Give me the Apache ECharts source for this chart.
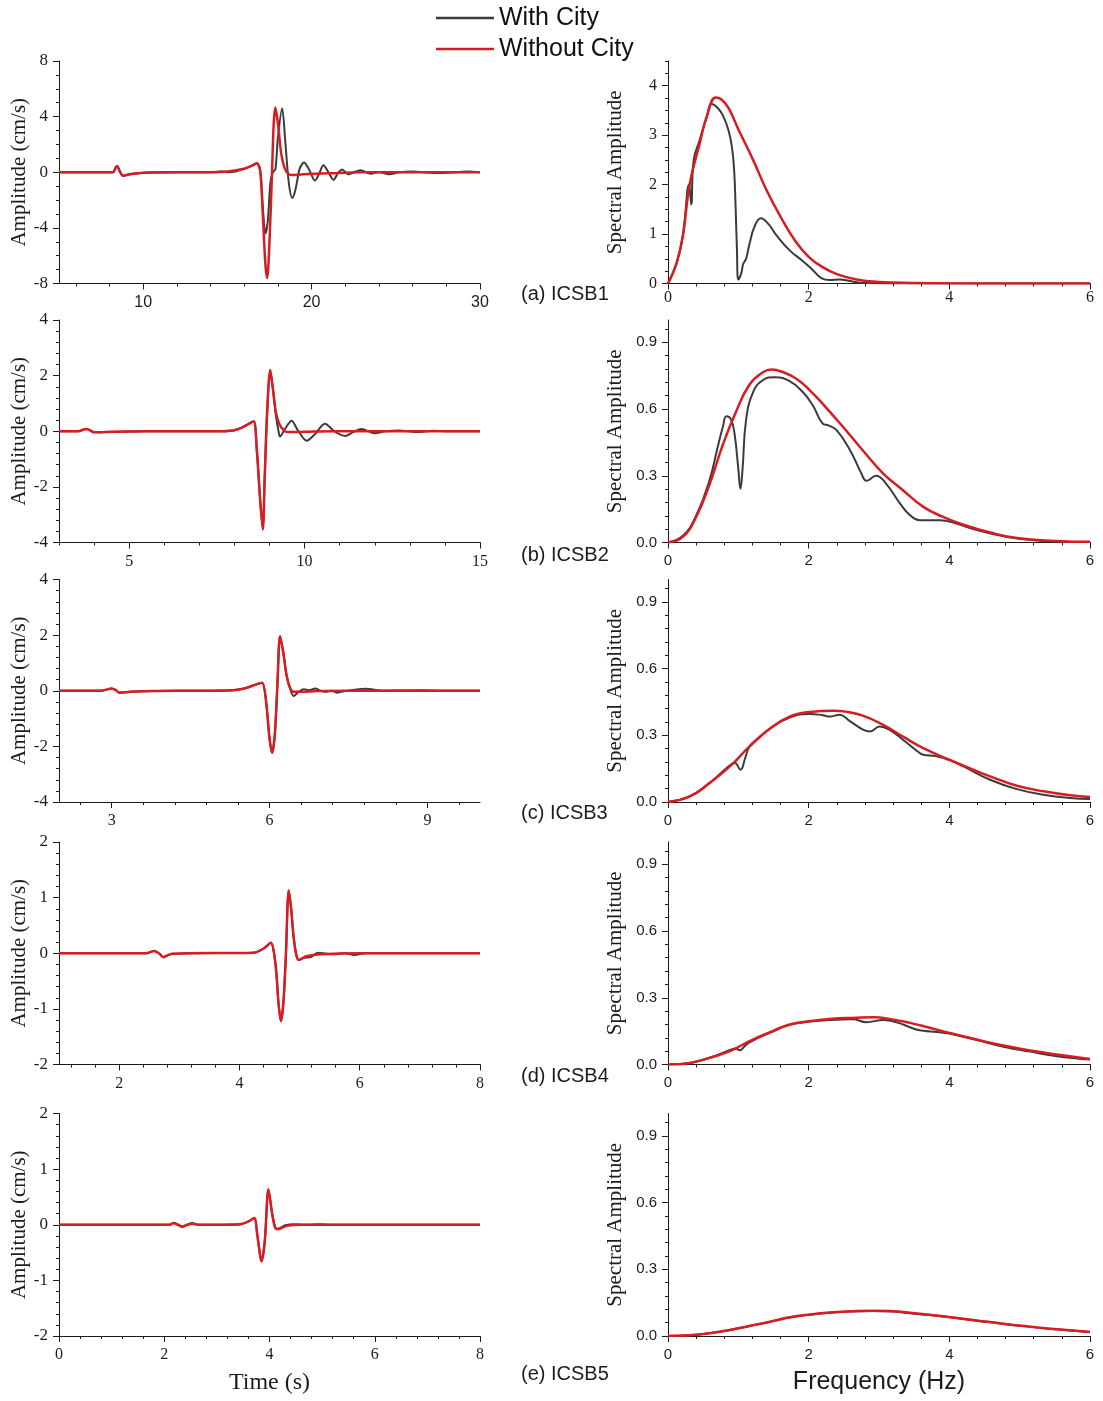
<!DOCTYPE html>
<html>
<head>
<meta charset="utf-8">
<script src="https://cdn.jsdelivr.net/npm/echarts@6/dist/echarts.min.js"></script>
<style>
  html, body { margin: 0; padding: 0; background: #fff; }
  #chart { width: 1103px; height: 1401px; }
</style>
</head>
<body>
<div id="chart"></div>
<script>
// ---------- Velocity time histories [time (s), amplitude (cm/s)] ----------
const waveA_with = [[5,0],[8.2,0],[8.35,0.3],[8.45,0.45],[8.6,0.1],[8.8,-0.25],[9.2,-0.15],[10,-0.03],[12,0],[14.3,0],[14.6,0.06],[15,0],[15.5,0.05],[16,0.25],[16.5,0.5],[16.75,0.65],[16.95,0.1],[17.1,-2.5],[17.26,-4.4],[17.4,-3.5],[17.55,-0.8],[17.7,0],[17.85,0.2],[18.0,2.5],[18.25,4.6],[18.45,2],[18.65,-0.8],[18.85,-1.85],[19.05,-1.2],[19.3,0.3],[19.55,0.7],[19.85,0.2],[20.2,-0.6],[20.45,-0.1],[20.7,0.5],[21.0,0],[21.3,-0.55],[21.55,-0.1],[21.8,0.2],[22.2,-0.15],[22.5,0],[22.9,0.15],[23.5,-0.1],[24.0,0.02],[24.6,-0.15],[25.2,0],[26,0.05],[27,-0.02],[27.6,-0.05],[28.5,0],[29.3,0.05],[30,0]];
const waveA_without = [[5,0],[8.2,0],[8.35,0.3],[8.45,0.45],[8.6,0.1],[8.8,-0.25],[9.2,-0.15],[10,-0.03],[12,0],[14,0],[15,0.05],[16,0.25],[16.5,0.5],[16.75,0.65],[16.95,0.1],[17.1,-3],[17.25,-6.5],[17.36,-7.6],[17.5,-5],[17.65,0],[17.75,3.5],[17.85,4.65],[18.0,3.5],[18.2,1.3],[18.4,0.3],[18.6,-0.1],[18.8,-0.2],[19.5,-0.15],[21,-0.08],[23,0],[30,0]];

const waveB_with = [[3,0],[3.55,0],[3.7,0.06],[3.78,0.08],[3.9,0.02],[4.0,-0.04],[4.3,-0.03],[5,-0.01],[6,0],[7.5,0],[7.97,0.03],[8.2,0.12],[8.4,0.26],[8.55,0.36],[8.64,-0.7],[8.73,-2.4],[8.81,-3.53],[8.86,-1.8],[8.93,0.6],[9.02,2.2],[9.1,1.5],[9.18,0.6],[9.25,0.05],[9.3,-0.19],[9.45,0.1],[9.63,0.38],[9.8,0.05],[10.06,-0.34],[10.3,-0.1],[10.58,0.27],[10.85,0.0],[11.15,-0.17],[11.4,-0.02],[11.62,0.08],[12.0,-0.07],[12.3,0],[12.7,0.03],[13.2,-0.03],[13.66,0.02],[14.1,0],[15,0]];
const waveB_without = [[3,0],[3.55,0],[3.7,0.06],[3.78,0.08],[3.9,0.02],[4.0,-0.04],[4.3,-0.03],[5,-0.01],[6,0],[7.5,0],[7.97,0.03],[8.2,0.12],[8.4,0.26],[8.55,0.36],[8.64,-0.7],[8.73,-2.4],[8.81,-3.53],[8.86,-1.8],[8.93,0.6],[9.02,2.2],[9.1,1.5],[9.18,0.7],[9.28,0.25],[9.4,0.05],[9.5,-0.03],[10.0,-0.02],[10.8,0],[15,0]];

const waveC_with = [[2,0],[2.8,0],[2.92,0.05],[3.0,0.08],[3.08,0.02],[3.15,-0.07],[3.35,-0.04],[3.8,-0.01],[4.5,0],[5.3,0.02],[5.55,0.1],[5.75,0.23],[5.86,0.29],[5.93,-0.3],[6.0,-1.7],[6.05,-2.23],[6.1,-1.6],[6.15,0.2],[6.2,1.96],[6.26,1.4],[6.32,0.6],[6.38,0.15],[6.46,-0.19],[6.55,-0.05],[6.65,0.05],[6.75,0.02],[6.87,0.08],[6.97,0.0],[7.06,-0.04],[7.18,0.0],[7.28,-0.07],[7.47,0.0],[7.82,0.07],[8.17,0],[8.49,0.01],[8.93,0.02],[9.3,0],[10,0]];
const waveC_without = [[2,0],[2.8,0],[2.92,0.05],[3.0,0.08],[3.08,0.02],[3.15,-0.07],[3.35,-0.04],[3.8,-0.01],[4.5,0],[5.3,0.02],[5.55,0.1],[5.75,0.23],[5.86,0.29],[5.93,-0.3],[6.0,-1.7],[6.05,-2.23],[6.1,-1.6],[6.15,0.2],[6.2,1.96],[6.26,1.4],[6.32,0.6],[6.38,0.15],[6.46,-0.04],[6.6,-0.04],[6.9,-0.01],[7.5,0],[10,0]];

const waveD_with = [[1,0],[2.45,0],[2.58,0.04],[2.66,0.0],[2.74,-0.07],[2.82,-0.03],[2.9,-0.01],[3.2,0],[4.24,0.01],[4.41,0.09],[4.52,0.19],[4.6,-0.2],[4.65,-0.9],[4.69,-1.22],[4.73,-0.9],[4.77,-0.1],[4.82,1.13],[4.86,0.8],[4.9,0.3],[4.95,-0.05],[4.99,-0.12],[5.08,-0.08],[5.19,-0.07],[5.3,0.01],[5.45,-0.01],[5.58,-0.02],[5.75,0.0],[5.91,-0.03],[6.1,0.0],[6.36,0.0],[8,0]];
const waveD_without = [[1,0],[2.45,0],[2.58,0.04],[2.66,0.0],[2.74,-0.07],[2.82,-0.03],[2.9,-0.01],[3.2,0],[4.24,0.01],[4.41,0.09],[4.52,0.19],[4.6,-0.2],[4.65,-0.9],[4.69,-1.22],[4.73,-0.9],[4.77,-0.1],[4.82,1.13],[4.86,0.8],[4.9,0.3],[4.95,-0.05],[4.99,-0.12],[5.1,-0.06],[5.36,-0.02],[6,0],[8,0]];

const waveE_with = [[0,0],[2.1,0],[2.18,0.03],[2.26,0],[2.34,-0.04],[2.44,0],[2.53,0.03],[2.65,0],[3.44,0.01],[3.6,0.06],[3.71,0.12],[3.77,-0.2],[3.85,-0.65],[3.91,-0.3],[3.98,0.62],[4.05,0.2],[4.11,-0.05],[4.16,-0.07],[4.3,-0.01],[4.46,0.01],[4.7,0],[4.96,0.01],[5.2,0],[8,0]];
const waveE_without = [[0,0],[2.1,0],[2.18,0.03],[2.26,0],[2.34,-0.03],[2.44,0],[2.53,0.02],[2.65,0],[3.44,0.01],[3.6,0.06],[3.71,0.12],[3.77,-0.2],[3.85,-0.66],[3.91,-0.3],[3.98,0.64],[4.05,0.2],[4.11,-0.06],[4.16,-0.08],[4.33,-0.02],[4.6,0],[8,0]];

// ---------- Fourier amplitude spectra [frequency (Hz), spectral amplitude] ----------
const specA_with = [[0,0],[0.12,0.4],[0.21,0.95],[0.3,2.0],[0.33,1.6],[0.365,2.5],[0.45,2.9],[0.55,3.37],[0.62,3.63],[0.7,3.56],[0.78,3.4],[0.86,3.1],[0.91,2.75],[0.94,2.3],[0.96,1.6],[0.98,0.7],[1.0,0.08],[1.04,0.2],[1.07,0.4],[1.11,0.5],[1.16,0.81],[1.23,1.15],[1.32,1.32],[1.43,1.2],[1.54,0.98],[1.73,0.67],[1.92,0.45],[2.06,0.27],[2.18,0.11],[2.3,0.07],[2.44,0.08],[2.59,0.05],[2.78,0.01],[3.15,0],[6,0]];
const specA_without = [[0,0],[0.12,0.4],[0.21,0.95],[0.31,2.02],[0.45,2.83],[0.55,3.37],[0.68,3.76],[0.76,3.72],[0.86,3.55],[1.0,3.12],[1.21,2.5],[1.4,1.89],[1.6,1.35],[1.8,0.88],[2.0,0.54],[2.21,0.32],[2.4,0.19],[2.68,0.08],[3.0,0.03],[3.5,0.01],[4,0.003],[6,0]];

const specB_with = [[0,0],[0.21,0.03],[0.4,0.12],[0.59,0.28],[0.7,0.42],[0.78,0.52],[0.83,0.567],[0.9,0.55],[0.95,0.48],[1.0,0.33],[1.03,0.242],[1.06,0.33],[1.11,0.55],[1.21,0.676],[1.35,0.73],[1.52,0.743],[1.73,0.725],[1.92,0.675],[2.06,0.616],[2.2,0.534],[2.28,0.526],[2.4,0.504],[2.59,0.414],[2.75,0.31],[2.82,0.277],[2.96,0.3],[3.1,0.265],[3.3,0.175],[3.44,0.123],[3.58,0.1],[3.87,0.1],[4.1,0.085],[4.34,0.06],[4.82,0.025],[5.29,0.008],[6,0.002]];
const specB_without = [[0,0],[0.21,0.025],[0.4,0.115],[0.59,0.26],[0.78,0.44],[0.97,0.59],[1.16,0.71],[1.35,0.765],[1.47,0.777],[1.64,0.765],[1.83,0.735],[2.02,0.683],[2.2,0.623],[2.49,0.519],[2.78,0.41],[3.06,0.31],[3.34,0.235],[3.63,0.16],[3.91,0.115],[4.2,0.08],[4.58,0.045],[4.96,0.02],[5.5,0.007],[6,0.003]];

const specC_with = [[0,0],[0.31,0.025],[0.59,0.085],[0.88,0.165],[0.95,0.175],[1.03,0.145],[1.1,0.2],[1.16,0.25],[1.3,0.29],[1.45,0.33],[1.73,0.38],[2.02,0.396],[2.2,0.39],[2.3,0.384],[2.44,0.392],[2.59,0.362],[2.78,0.324],[2.87,0.317],[3.01,0.339],[3.15,0.324],[3.34,0.28],[3.58,0.22],[3.63,0.212],[3.82,0.205],[4.01,0.187],[4.2,0.16],[4.58,0.1],[4.96,0.058],[5.34,0.033],[5.72,0.018],[6,0.013]];
const specC_without = [[0,0],[0.31,0.025],[0.59,0.085],[0.88,0.16],[1.16,0.25],[1.45,0.33],[1.73,0.384],[2.02,0.405],[2.35,0.41],[2.55,0.405],[2.78,0.387],[3.06,0.347],[3.34,0.294],[3.63,0.242],[4.0,0.19],[4.34,0.145],[4.58,0.115],[4.96,0.073],[5.34,0.048],[5.72,0.03],[6,0.022]];

const specD_with = [[0,0],[0.31,0.007],[0.59,0.03],[0.88,0.065],[0.96,0.072],[1.02,0.064],[1.1,0.085],[1.16,0.1],[1.45,0.143],[1.73,0.178],[2.02,0.193],[2.3,0.2],[2.63,0.203],[2.82,0.19],[3.06,0.2],[3.25,0.19],[3.53,0.157],[3.63,0.152],[3.82,0.146],[4.0,0.139],[4.39,0.11],[4.77,0.08],[5.15,0.058],[5.53,0.037],[6,0.022]];
const specD_without = [[0,0],[0.31,0.007],[0.59,0.03],[0.88,0.06],[1.16,0.105],[1.45,0.145],[1.73,0.18],[2.02,0.195],[2.3,0.205],[2.68,0.21],[2.92,0.212],[3.15,0.205],[3.44,0.187],[3.72,0.165],[4.0,0.142],[4.39,0.112],[4.77,0.085],[5.15,0.063],[5.53,0.045],[6,0.025]];

const specE_with = [[0,0],[0.31,0.003],[0.59,0.012],[0.88,0.027],[1.16,0.045],[1.45,0.064],[1.73,0.083],[2.02,0.096],[2.3,0.105],[2.59,0.11],[2.92,0.112],[3.2,0.11],[3.44,0.102],[3.72,0.094],[4.0,0.084],[4.39,0.069],[4.77,0.054],[5.15,0.041],[5.53,0.03],[6,0.018]];
const specE_without = [[0,0],[0.31,0.003],[0.59,0.012],[0.88,0.027],[1.16,0.045],[1.45,0.064],[1.73,0.084],[2.02,0.097],[2.3,0.106],[2.59,0.111],[2.92,0.114],[3.15,0.112],[3.44,0.105],[3.72,0.096],[4.0,0.085],[4.39,0.07],[4.77,0.055],[5.15,0.042],[5.53,0.03],[6,0.018]];

// ---------- Tick labels ----------
const timeLabelsA = [10, 20, 30];
const timeLabelsB = [5, 10, 15];
const timeLabelsC = [3, 6, 9];
const timeLabelsD = [2, 4, 6, 8];
const timeLabelsE = [0, 2, 4, 6, 8];
const ampLabelsA = [-8, -4, 0, 4, 8];
const ampLabelsBC = [-4, -2, 0, 2, 4];
const ampLabelsDE = [-2, -1, 0, 1, 2];
const freqLabels = [0, 2, 4, 6];
const specLabelsA = [0, 1, 2, 3, 4];
const specLabels = [0, 0.3, 0.6, 0.9];

const stationNames = ['(a) ICSB1', '(b) ICSB2', '(c) ICSB3', '(d) ICSB4', '(e) ICSB5'];
const seriesNames = ['With City', 'Without City'];

// ---------- Styling ----------
const SERIF = '"Liberation Serif", "Times New Roman", serif';
const SANS = '"Liberation Sans", Arial, sans-serif';
const INK = '#1c1c1c';
const GRAY = '#3b3b3b';
const RED = '#d81c22';

// evenly spaced minor tick positions
function minorTicks(from, to, step) {
  const out = [];
  for (let i = 0; from + i * step <= to + 1e-9; i++) out.push(Math.round((from + i * step) * 1000) / 1000);
  return out;
}

const rowTops = [61, 320, 579.5, 842, 1113.5];
const rowHeight = 222.5;
const LEFT_X = 59, LEFT_W = 421;
const RIGHT_X = 668, RIGHT_W = 422;

const panels = [
  // time histories
  { col: 0, row: 0, x: { min: 5, max: 30, labels: timeLabelsA, minor: minorTicks(6, 30, 2), font: SANS, size: 16, margin: 11 },
    y: { min: -8, max: 8, labels: ampLabelsA, minor: minorTicks(-8, 8, 1) }, withCity: waveA_with, withoutCity: waveA_without },
  { col: 0, row: 1, x: { min: 3, max: 15, labels: timeLabelsB, minor: minorTicks(3, 15, 1), font: SERIF, size: 16, margin: 11 },
    y: { min: -4, max: 4, labels: ampLabelsBC, minor: minorTicks(-4, 4, 0.4) }, withCity: waveB_with, withoutCity: waveB_without },
  { col: 0, row: 2, x: { min: 2, max: 10, labels: timeLabelsC, minor: minorTicks(2.4, 10, 0.6), font: SERIF, size: 16, margin: 11 },
    y: { min: -4, max: 4, labels: ampLabelsBC, minor: minorTicks(-4, 4, 0.4) }, withCity: waveC_with, withoutCity: waveC_without },
  { col: 0, row: 3, x: { min: 1, max: 8, labels: timeLabelsD, minor: minorTicks(1.2, 8, 0.4), font: SERIF, size: 16, margin: 11 },
    y: { min: -2, max: 2, labels: ampLabelsDE, minor: minorTicks(-2, 2, 0.2) }, withCity: waveD_with, withoutCity: waveD_without },
  { col: 0, row: 4, x: { min: 0, max: 8, labels: timeLabelsE, minor: minorTicks(0, 8, 0.4), font: SERIF, size: 16, margin: 11 },
    y: { min: -2, max: 2, labels: ampLabelsDE, minor: minorTicks(-2, 2, 0.2) }, withCity: waveE_with, withoutCity: waveE_without },
  // spectra
  { col: 1, row: 0, x: { min: 0, max: 6, labels: freqLabels, minor: minorTicks(0, 6, 0.4), font: SERIF, size: 16, margin: 6 },
    y: { min: 0, max: 4.5, labels: specLabelsA, minor: minorTicks(0, 4.5, 0.25), font: SERIF, size: 16 }, withCity: specA_with, withoutCity: specA_without },
  { col: 1, row: 1, x: { min: 0, max: 6, labels: freqLabels, minor: minorTicks(0, 6, 0.4), font: SANS, size: 15, margin: 11 },
    y: { min: 0, max: 1.0, labels: specLabels, minor: minorTicks(0, 0.96, 0.06), font: SANS, size: 15, fixed: 1 }, withCity: specB_with, withoutCity: specB_without },
  { col: 1, row: 2, x: { min: 0, max: 6, labels: freqLabels, minor: minorTicks(0, 6, 0.4), font: SANS, size: 15, margin: 11 },
    y: { min: 0, max: 1.0, labels: specLabels, minor: minorTicks(0, 0.96, 0.06), font: SANS, size: 15, fixed: 1 }, withCity: specC_with, withoutCity: specC_without },
  { col: 1, row: 3, x: { min: 0, max: 6, labels: freqLabels, minor: minorTicks(0, 6, 0.4), font: SANS, size: 15, margin: 11 },
    y: { min: 0, max: 1.0, labels: specLabels, minor: minorTicks(0, 0.96, 0.06), font: SANS, size: 15, fixed: 1 }, withCity: specD_with, withoutCity: specD_without },
  { col: 1, row: 4, x: { min: 0, max: 6, labels: freqLabels, minor: minorTicks(0, 6, 0.4), font: SANS, size: 15, margin: 11 },
    y: { min: 0, max: 1.0, labels: specLabels, minor: minorTicks(0, 0.96, 0.06), font: SANS, size: 15, fixed: 1 }, withCity: specE_with, withoutCity: specE_without }
];

const grid = [], xAxis = [], yAxis = [], series = [];

panels.forEach((p, i) => {
  grid.push({
    left: p.col === 0 ? LEFT_X : RIGHT_X,
    width: p.col === 0 ? LEFT_W : RIGHT_W,
    top: rowTops[p.row],
    height: rowHeight,
    containLabel: false
  });

  const lineStyle = { color: INK, width: 1 };
  // main x axis: line, long ticks, labels
  xAxis.push({
    type: 'value', gridIndex: i, position: 'bottom', min: p.x.min, max: p.x.max,
    axisLine: { show: true, onZero: false, lineStyle },
    axisTick: { show: true, length: 6, customValues: p.x.labels, lineStyle },
    axisLabel: { customValues: p.x.labels, margin: p.x.margin, fontFamily: p.x.font, fontSize: p.x.size, color: INK },
    splitLine: { show: false }
  });
  // minor x ticks
  xAxis.push({
    type: 'value', gridIndex: i, position: 'bottom', min: p.x.min, max: p.x.max,
    axisLine: { show: false, onZero: false },
    axisTick: { show: true, length: 3, customValues: p.x.minor, lineStyle },
    axisLabel: { show: false },
    splitLine: { show: false }
  });

  const isWave = p.col === 0;
  yAxis.push({
    type: 'value', gridIndex: i, position: 'left', min: p.y.min, max: p.y.max,
    name: isWave ? 'Amplitude (cm/s)' : 'Spectral Amplitude',
    nameLocation: 'middle', nameGap: isWave ? 26 : 42,
    nameTextStyle: { fontFamily: SERIF, fontSize: 21, color: INK },
    axisLine: { show: true, onZero: false, lineStyle },
    axisTick: { show: true, length: 6, customValues: p.y.labels, lineStyle },
    axisLabel: {
      customValues: p.y.labels, margin: 11,
      fontFamily: p.y.font || SERIF, fontSize: p.y.size || 17, color: INK,
      formatter: p.y.fixed ? (v => Number(v).toFixed(p.y.fixed)) : (v => String(v))
    },
    splitLine: { show: false }
  });
  yAxis.push({
    type: 'value', gridIndex: i, position: 'left', min: p.y.min, max: p.y.max,
    axisLine: { show: false, onZero: false },
    axisTick: { show: true, length: 3, customValues: p.y.minor, lineStyle },
    axisLabel: { show: false },
    splitLine: { show: false }
  });

  const common = {
    type: 'line', xAxisIndex: 2 * i, yAxisIndex: 2 * i,
    symbol: 'none', showSymbol: false, smooth: isWave ? 0.3 : 0.45,
    clip: true, silent: true
  };
  series.push(Object.assign({}, common, {
    name: seriesNames[0], data: p.withCity, z: 2,
    lineStyle: { color: GRAY, width: 2 }, itemStyle: { color: GRAY }
  }));
  series.push(Object.assign({}, common, {
    name: seriesNames[1], data: p.withoutCity, z: 3,
    lineStyle: { color: RED, width: 2.5 }, itemStyle: { color: RED }
  }));
});

const labelCenters = [294, 555, 813, 1076, 1374];
const graphic = stationNames.map((t, k) => ({
  type: 'text', silent: true,
  style: { text: t, x: 521, y: labelCenters[k], textVerticalAlign: 'middle',
           fontFamily: SANS, fontSize: 20, fill: INK }
}));
graphic.push({
  type: 'text', silent: true,
  style: { text: 'Time (s)', x: LEFT_X + LEFT_W / 2, y: 1383, textAlign: 'center', textVerticalAlign: 'middle',
           fontFamily: SERIF, fontSize: 24, fill: INK }
});
graphic.push({
  type: 'text', silent: true,
  style: { text: 'Frequency (Hz)', x: RIGHT_X + RIGHT_W / 2, y: 1382, textAlign: 'center', textVerticalAlign: 'middle',
           fontFamily: SANS, fontSize: 25, fill: INK }
});

const chart = echarts.init(document.getElementById('chart'), null, { renderer: 'canvas' });
chart.setOption({
  animation: false,
  backgroundColor: '#ffffff',
  legend: {
    data: seriesNames, orient: 'vertical', left: 431, top: 0,
    icon: 'rect', itemWidth: 58, itemHeight: 2.5, itemGap: 5,
    selectedMode: false,
    textStyle: { fontFamily: SANS, fontSize: 25, color: '#111', lineHeight: 26 }
  },
  grid, xAxis, yAxis, series, graphic
});
</script>
</body>
</html>
